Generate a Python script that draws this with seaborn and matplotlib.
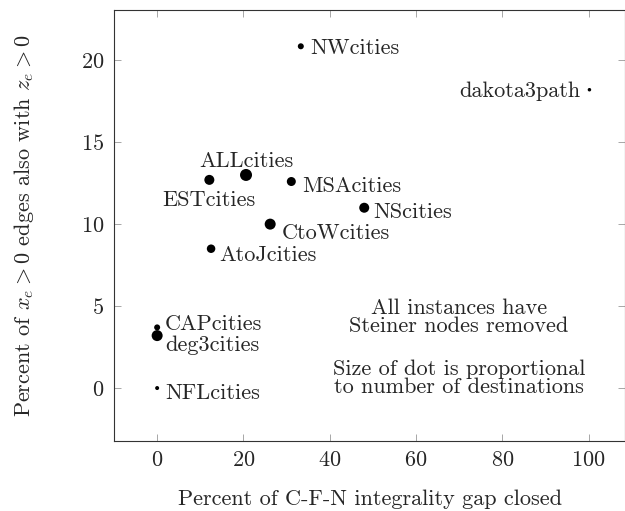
import pandas as pd
import seaborn as sns
import matplotlib.pyplot as plt

# --- data ---
names = ['NWcities', 'dakota3path', 'ALLcities', 'ESTcities', 'MSAcities',
         'NScities', 'CtoWcities', 'AtoJcities', 'CAPcities', 'deg3cities',
         'NFLcities']
gap_closed = [33.3, 100.2, 20.6, 12.1, 31.1, 48.0, 26.2, 12.5, 0.0, 0.0, 0.0]
pct_edges = [20.85, 18.2, 13.0, 12.7, 12.6, 11.0, 10.0, 8.5, 3.7, 3.2, 0.0]
# relative number of destinations (estimated from dot diameters)
destinations = [6, 3.5, 12, 10, 9, 10, 11, 8.5, 6, 11, 4]

df = pd.DataFrame({'name': names, 'gap': gap_closed, 'pct': pct_edges,
                   'dest': destinations})

sns.set_style("ticks")
plt.rcParams['font.family'] = ['cmr10']
plt.rcParams['mathtext.fontset'] = 'cm'
plt.rcParams['axes.formatter.use_mathtext'] = True
plt.rcParams['font.size'] = 16

fig = plt.figure(figsize=(6.25, 5.11), dpi=100)
ax = fig.add_axes([0.1824, 0.137, 0.818, 0.843])

# dot diameter proportional to number of destinations
dot_s = (df['dest'] * 0.72) ** 2
sns.scatterplot(data=df, x='gap', y='pct', s=dot_s, color='black',
                linewidth=0, legend=False, ax=ax)

# label placement (offsets in points)
label_pos = {
    'NWcities': ((6.5, 0), 'left'),
    'dakota3path': ((-6.5, 0), 'right'),
    'ALLcities': ((0, 11), 'center'),
    'ESTcities': ((0, -13), 'center'),
    'MSAcities': ((8, -2), 'left'),
    'NScities': ((6.5, -1.5), 'left'),
    'CtoWcities': ((8.6, -5), 'left'),
    'AtoJcities': ((5.8, -3.6), 'left'),
    'CAPcities': ((5.8, 3.6), 'left'),
    'deg3cities': ((5.8, -5.8), 'left'),
    'NFLcities': ((5.8, -2), 'left'),
}
for _, row in df.iterrows():
    off, ha = label_pos[row['name']]
    ax.annotate(row['name'], (row['gap'], row['pct']), xytext=off,
                textcoords='offset points', ha=ha, va='center_baseline',
                fontsize=16)

ax.text(70, 4.3, 'All instances have\nSteiner nodes removed', ha='center',
        va='center', fontsize=16, linespacing=0.9)
ax.text(70, 0.6, 'Size of dot is proportional\nto number of destinations',
        ha='center', va='center', fontsize=16, linespacing=0.9)

ax.set_xlim(-10, 108.5)
ax.set_ylim(-3.23, 23.05)
ax.set_xticks([0, 20, 40, 60, 80, 100])
ax.set_yticks([0, 5, 10, 15, 20])
ax.tick_params(direction='in', top=True, right=True, length=5, width=0.6,
               color='#999999', labelsize=16, pad=7)
for sp in ax.spines.values():
    sp.set_linewidth(0.8)
    sp.set_color('#333333')

ax.set_xlabel('Percent of C-F-N integrality gap closed', labelpad=14)
ax.set_ylabel(r'Percent of $x_e > 0$ edges also with $z_e > 0$', labelpad=32)

fig.savefig('out.png', dpi=100)
